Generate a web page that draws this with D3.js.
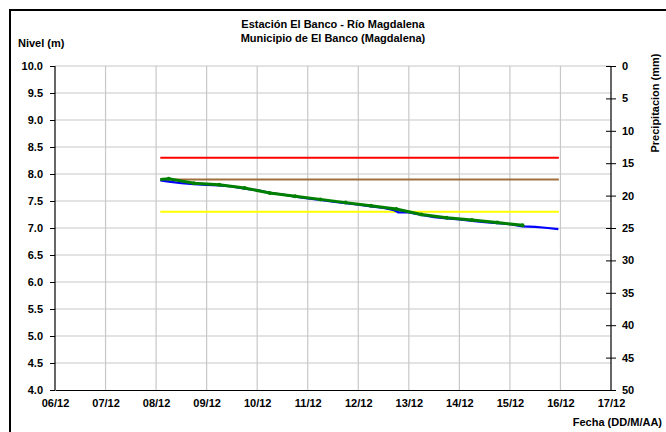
<!DOCTYPE html>
<html>
<head>
<meta charset="utf-8">
<script src="https://cdn.jsdelivr.net/npm/d3@7"></script>
<style>
  body { margin: 0; background: #fff; }
  svg { display: block; }
  text { font-family: "Liberation Sans", Arial, sans-serif; font-weight: bold; }
</style>
</head>
<body>
<script>
// niveles del rio, fechas DD/MM HH:mm (diciembre)
var parseT = d3.timeParse('%d/%m/%Y %H:%M');

var xTicks = ['06/12', '07/12', '08/12', '09/12', '10/12', '11/12', '12/12', '13/12', '14/12', '15/12', '16/12', '17/12'];
var yTicks = [4.0, 4.5, 5.0, 5.5, 6.0, 6.5, 7.0, 7.5, 8.0, 8.5, 9.0, 9.5, 10.0];
var precipTicks = [0, 5, 10, 15, 20, 25, 30, 35, 40, 45, 50];

// umbrales (rojo, naranja/cafe, amarillo)
var thresholdValues = [8.3, 7.9, 7.3];
var thresholdColors = ['#ff0000', '#a0703c', '#ffff00'];
var thresholdStart = '08/12 02:00';
var thresholdEnd = '15/12 23:15';

// serie azul (observado)
var blueTimes = ['08/12 02:00', '08/12 06:00', '08/12 12:00', '08/12 18:00', '09/12 00:00', '09/12 06:00', '09/12 12:00',
  '09/12 18:00', '10/12 00:00', '10/12 06:00', '10/12 12:00', '10/12 18:00', '11/12 00:00', '11/12 06:00', '11/12 12:00',
  '11/12 18:00', '12/12 00:00', '12/12 06:00', '12/12 12:00', '12/12 17:00', '12/12 19:00', '13/12 00:00', '13/12 06:00',
  '13/12 12:00', '13/12 18:00', '14/12 00:00', '14/12 06:00', '14/12 12:00', '14/12 18:00', '15/12 00:00', '15/12 06:00',
  '15/12 12:00', '15/12 18:00', '15/12 23:00'];
var blueValues = [7.88, 7.86, 7.83, 7.81, 7.80, 7.79, 7.77, 7.73, 7.70, 7.65, 7.62, 7.58, 7.55, 7.52, 7.49, 7.46,
  7.43, 7.40, 7.37, 7.33, 7.29, 7.29, 7.24, 7.20, 7.18, 7.16, 7.13, 7.11, 7.09, 7.07, 7.03, 7.02, 7.00, 6.98];

// serie verde (lecturas 6:00 y 18:00)
var greenTimes = ['08/12 02:00', '08/12 06:00', '08/12 18:00', '09/12 06:00', '09/12 18:00', '10/12 06:00', '10/12 18:00',
  '11/12 06:00', '11/12 18:00', '12/12 06:00', '12/12 18:00', '13/12 06:00', '13/12 18:00', '14/12 06:00', '14/12 18:00',
  '15/12 06:00'];
var greenValues = [7.90, 7.91, 7.83, 7.80, 7.74, 7.65, 7.59, 7.53, 7.47, 7.41, 7.35, 7.25, 7.19, 7.15, 7.10, 7.05];

var toDate = function(s) { return parseT(s.slice(0, 5) + '/2012' + s.slice(5)); };

var W = 666, H = 432;
var pLeft = 55, pRight = 611, pTop = 66, pBottom = 390;

var svg = d3.select('body').append('svg').attr('width', W).attr('height', H);

svg.append('rect').attr('x', 10).attr('y', 10).attr('width', W).attr('height', H)
  .attr('fill', 'none').attr('stroke', '#000').attr('stroke-width', 2);

var x = d3.scaleTime()
  .domain([toDate('06/12 00:00'), toDate('17/12 00:00')])
  .range([pLeft, pRight]);
var y = d3.scaleLinear().domain([4, 10]).range([pBottom, pTop]);
var y2 = d3.scaleLinear().domain([0, 50]).range([pTop, pBottom]);

var dayDates = xTicks.map(function(t) { return toDate(t + ' 00:00'); });

// grid
svg.append('g').selectAll('line').data(dayDates.slice(1, -1)).enter().append('line')
  .attr('x1', function(d) { return x(d); }).attr('x2', function(d) { return x(d); })
  .attr('y1', pTop).attr('y2', pBottom)
  .attr('stroke', '#c8c8c8').attr('stroke-width', 1.2);
svg.append('g').selectAll('line').data(yTicks.slice(1)).enter().append('line')
  .attr('x1', pLeft).attr('x2', pRight)
  .attr('y1', function(d) { return y(d); }).attr('y2', function(d) { return y(d); })
  .attr('stroke', '#c8c8c8').attr('stroke-width', 1.2);

// thresholds
svg.append('g').selectAll('line').data(thresholdValues).enter().append('line')
  .attr('x1', x(toDate(thresholdStart))).attr('x2', x(toDate(thresholdEnd)))
  .attr('y1', function(d) { return y(d); }).attr('y2', function(d) { return y(d); })
  .attr('stroke', function(d, i) { return thresholdColors[i]; }).attr('stroke-width', 2);

var line = d3.line()
  .x(function(d) { return x(d.t); })
  .y(function(d) { return y(d.v); });

var blue = blueTimes.map(function(t, i) { return { t: toDate(t), v: blueValues[i] }; });
var green = greenTimes.map(function(t, i) { return { t: toDate(t), v: greenValues[i] }; });

svg.append('path').datum(blue).attr('d', line)
  .attr('fill', 'none').attr('stroke', '#0000ff').attr('stroke-width', 2.2);
svg.append('path').datum(green).attr('d', line)
  .attr('fill', 'none').attr('stroke', '#008000').attr('stroke-width', 3);
svg.append('g').selectAll('circle').data(green.slice(1)).enter().append('circle')
  .attr('cx', function(d) { return x(d.t); }).attr('cy', function(d) { return y(d.v); })
  .attr('r', 2).attr('fill', '#008000');

// axes
var yAxis = d3.axisLeft(y).tickValues(yTicks).tickFormat(d3.format('.1f')).tickSize(5).tickPadding(7);
var gy = svg.append('g').attr('transform', 'translate(' + pLeft + ',0)').call(yAxis);

var y2Axis = d3.axisRight(y2).tickValues(precipTicks).tickSize(5).tickPadding(6);
var gy2 = svg.append('g').attr('transform', 'translate(' + pRight + ',0)').call(y2Axis);
gy2.selectAll('.tick line').attr('x1', -5);

var xAxis = d3.axisBottom(x).tickValues(dayDates).tickFormat(d3.timeFormat('%d/%m')).tickSize(0).tickPadding(9);
var gx = svg.append('g').attr('transform', 'translate(0,' + pBottom + ')').call(xAxis);

[gy, gy2, gx].forEach(function(g) {
  g.select('.domain').attr('stroke', '#000').attr('stroke-width', 1.2);
  g.selectAll('.tick line').attr('stroke', '#000');
  g.selectAll('text').attr('font-size', 11).attr('font-family', '"Liberation Sans", Arial, sans-serif')
    .attr('font-weight', 'bold').attr('fill', '#000');
});
gy2.select('.domain').attr('d', 'M0,' + pTop + 'V' + pBottom);
gy.select('.domain').attr('d', 'M0,' + pTop + 'V' + pBottom);

// titles
svg.append('text').attr('x', 333).attr('y', 28).attr('text-anchor', 'middle').attr('font-size', 11)
  .text('Estación El Banco - Río Magdalena');
svg.append('text').attr('x', 333).attr('y', 42).attr('text-anchor', 'middle').attr('font-size', 11)
  .text('Municipio de El Banco (Magdalena)');
svg.append('text').attr('x', 18).attr('y', 47).attr('font-size', 11).text('Nivel (m)');
svg.append('text').attr('transform', 'translate(659,103) rotate(-90)').attr('text-anchor', 'middle')
  .attr('font-size', 11).text('Precipitacion (mm)');
svg.append('text').attr('x', 662).attr('y', 426).attr('text-anchor', 'end').attr('font-size', 11)
  .text('Fecha (DD/M/AA)');
</script>
</body>
</html>
